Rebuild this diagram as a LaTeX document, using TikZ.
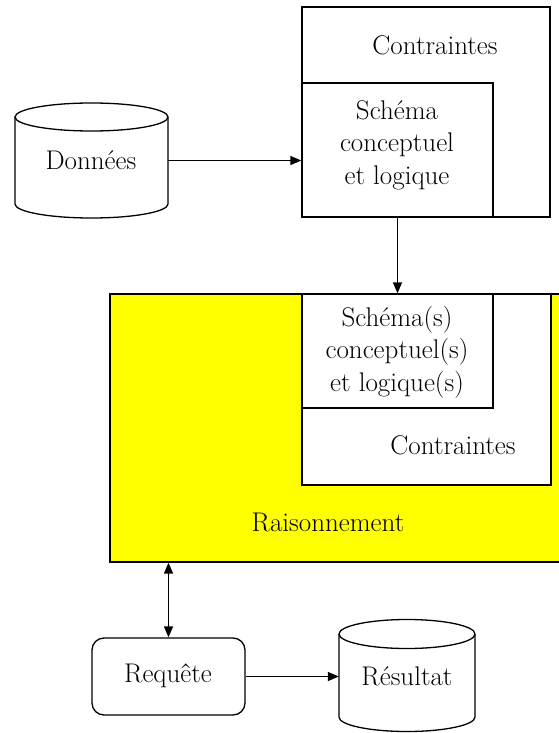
\documentclass[tikz,border=0pt]{standalone}
\usepackage{fontspec}
\usetikzlibrary{arrows.meta}

\definecolor{jaune}{RGB}{255,255,0}

\tikzset{
	cadre/.style={draw, line width=1.3pt, inner sep=0pt, fill=white},
	texte/.style={font=\rmfamily\fontsize{27}{32.5}\selectfont, align=center, inner sep=0pt},
	bloc/.style={inner sep=0pt},
	trait/.style={line width=1.3pt},
	fleche/.style={line width=1.4pt, -{Triangle[length=11pt,width=9pt]}},
	double fleche/.style={line width=1.4pt, {Triangle[length=11pt,width=9pt]}-{Triangle[length=11pt,width=9pt]}}
}

\begin{document}
\begin{tikzpicture}[x=1pt,y=-1pt]

	\useasboundingbox (0,0) rectangle (558,733);

	% top block
	\node[cadre, minimum width=248pt, minimum height=210pt] (contr1) at (426,112) {};
	\node[cadre, minimum width=191pt, minimum height=134pt] (schema1) at (397.5,150) {};
	\node[texte] (tcontr1) at (435,45) {Contraintes};
	\node[texte] (tschema1) at (397,145) {Schéma\\conceptuel\\et logique};

	% data
	\draw[trait] (15,117) -- (15,204) arc (180:0:76.5 and 14) -- (168,117);
	\draw[trait] (91.5,117) ellipse (76.5 and 14);
	\node[bloc, minimum width=153pt, minimum height=115pt] (donnees) at (91.5,160.5) {};
	\node[texte] (tdonnees) at (91,160) {Données};

	\draw[fleche] (donnees) -- (donnees -| schema1.west);

	% reasoning block
	\node[draw, line width=1.3pt, fill=jaune, inner sep=0pt, minimum width=450pt, minimum height=268pt] (raison) at (335,428) {};
	\node[cadre, minimum width=249pt, minimum height=191pt] (contr2) at (426.5,389.5) {};
	\node[cadre, minimum width=191pt, minimum height=114pt] (schema2) at (397.5,351) {};
	\node[texte] (tschema2) at (397,352) {Schéma(s)\\conceptuel(s)\\et logique(s)};
	\node[texte] (tcontr2) at (453,445) {Contraintes};
	\node[texte] (traison) at (328,522) {Raisonnement};

	\draw[fleche] (schema1.south) -- (schema2.north);

	% query and result
	\node[cadre, rounded corners=12pt, minimum width=153pt, minimum height=77pt] (requete) at (168.5,676.5) {};
	\node[texte] (trequete) at (168,676) {Requête};
	\draw[trait] (339,634) -- (339,717) arc (180:0:68 and 14.5) -- (475,634);
	\draw[trait] (407,634) ellipse (68 and 14.5);
	\node[bloc, minimum width=136pt, minimum height=113pt] (resultat) at (407,675.5) {};
	\node[texte] (tresultat) at (407,676) {Résultat};

	\draw[double fleche] (requete.north |- raison.south) -- (requete.north);
	\draw[fleche] (requete.east) -- (requete.east -| resultat.west);

\end{tikzpicture}
\end{document}
